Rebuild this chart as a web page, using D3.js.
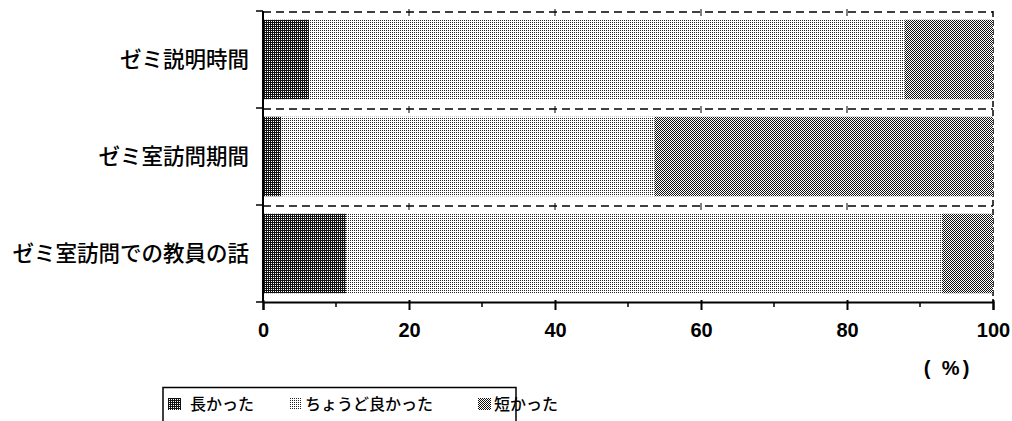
<!DOCTYPE html>
<html><head><meta charset="utf-8">
<script src="https://cdn.jsdelivr.net/npm/d3@7"></script>
<style>body{margin:0;background:#fff}svg{display:block}</style>
</head><body>
<script>
const categories = ["ゼミ説明時間", "ゼミ室訪問期間", "ゼミ室訪問での教員の話"];
const seriesNames = ["長かった", "ちょうど良かった", "短かった"];
const longVals = [6.3, 2.5, 11.4];
const justVals = [81.6, 51.1, 81.6];
const shortVals = [12.1, 46.4, 7.0];
const xTicks = [0, 20, 40, 60, 80, 100];
const minorTicks = [10, 30, 50, 70, 90];
const unitLabel = "( %)";

const W = 1012, H = 421;
const svg = d3.select("body").append("svg").attr("width", W).attr("height", H);
const defs = svg.append("defs");
function pat(id, cells, fg) {
  const p = defs.append("pattern").attr("id", id).attr("patternUnits", "userSpaceOnUse")
    .attr("width", 2).attr("height", 2);
  p.append("rect").attr("width", 2).attr("height", 2).attr("fill", "#fff");
  cells.forEach(c => p.append("rect").attr("x", c[0]).attr("y", c[1]).attr("width", 1).attr("height", 1).attr("fill", fg));
}
pat("pLong", [[0,0],[1,0],[0,1]], "#111");
pat("pJust", [[0,0]], "#222");
pat("pShort", [[0,0],[1,1]], "#111");
const fills = ["url(#pLong)", "url(#pJust)", "url(#pShort)"];

const x = d3.scaleLinear().domain([0, 100]).range([263, 993]);
const yBand = d3.scaleBand().domain(categories).range([11, 302]).paddingInner(0).paddingOuter(0);
const yBar = d3.scaleBand().domain(categories).range([11, 302]).paddingInner(0.18).paddingOuter(0.09);

const rows = categories.map((c, i) => {
  const vals = [longVals[i], justVals[i], shortVals[i]];
  let acc = 0;
  return vals.map((v, k) => { const s = { cat: c, k, x0: acc, x1: acc + v }; acc += v; return s; });
}).flat();

const g = svg.append("g");
categories.forEach(c => {
  g.append("line").attr("x1", x(0)).attr("x2", x(100)).attr("y1", yBand(c) + 1).attr("y2", yBand(c) + 1)
    .attr("stroke", "#000").attr("stroke-width", 1.3).attr("stroke-dasharray", "8,5");
  xTicks.slice(1, 5).forEach(t => {
    g.append("line").attr("x1", x(t)).attr("x2", x(t)).attr("y1", yBand(c) - 2).attr("y2", yBand(c) + 5)
      .attr("stroke", "#000").attr("stroke-width", 1);
  });
});
g.append("line").attr("x1", x(100)).attr("x2", x(100)).attr("y1", 11).attr("y2", 302)
  .attr("stroke", "#000").attr("stroke-width", 1.5).attr("stroke-dasharray", "6,3");

svg.append("g").selectAll("rect").data(rows).join("rect")
  .attr("x", d => x(d.x0)).attr("width", d => x(d.x1) - x(d.x0))
  .attr("y", d => yBar(d.cat)).attr("height", yBar.bandwidth())
  .attr("fill", d => fills[d.k]);

const ax = svg.append("g");
ax.append("line").attr("x1", 263).attr("x2", 263).attr("y1", 11).attr("y2", 302).attr("stroke", "#000").attr("stroke-width", 2);
[...categories.map(c => yBand(c)), 302].forEach(yy => {
  ax.append("line").attr("x1", 256).attr("x2", 263).attr("y1", yy).attr("y2", yy).attr("stroke", "#000").attr("stroke-width", 1.5);
});
ax.selectAll("text.cat").data(categories).join("text").attr("class", "cat")
  .attr("x", 249).attr("y", d => yBand(d) + yBand.bandwidth() / 2 + 7.5)
  .attr("text-anchor", "end").attr("font-family", "Noto Sans CJK JP").attr("font-size", 21.5).attr("font-weight", 500)
  .text(d => d);

const bx = svg.append("g").attr("transform", "translate(0,302)")
  .call(d3.axisBottom(x).tickValues(xTicks).tickSize(8).tickPadding(13).tickFormat(d3.format("d")));
bx.select(".domain").attr("stroke-width", 2);
bx.selectAll(".tick line").attr("stroke-width", 2).attr("y1", -2);
bx.selectAll("text").attr("font-family", "Liberation Sans, Arial").attr("font-size", 20).attr("font-weight", "bold").attr("fill", "#000");
minorTicks.forEach(t => bx.append("line").attr("x1", x(t)).attr("x2", x(t)).attr("y1", 0).attr("y2", 5).attr("stroke", "#000").attr("stroke-width", 1.5));

svg.append("text").attr("x", 948).attr("y", 375).attr("text-anchor", "middle").attr("letter-spacing", 3)
  .attr("font-family", "Liberation Sans, Arial").attr("font-size", 20).attr("font-weight", "bold").text(unitLabel);

const lg = svg.append("g");
lg.append("path").attr("d", "M163,425 V387.5 H516 V425").attr("fill", "none").attr("stroke", "#000").attr("stroke-width", 1.5);
const legX = [168, 289, 478];
seriesNames.forEach((n, i) => {
  lg.append("rect").attr("x", legX[i]).attr("y", 398).attr("width", 13).attr("height", 12).attr("fill", fills[i]);
  lg.append("text").attr("x", legX[i] + (i === 0 ? 22 : 16)).attr("y", 410)
    .attr("font-family", "Noto Sans CJK JP").attr("font-size", 16).attr("font-weight", 500).text(n);
});
</script>
</body></html>
